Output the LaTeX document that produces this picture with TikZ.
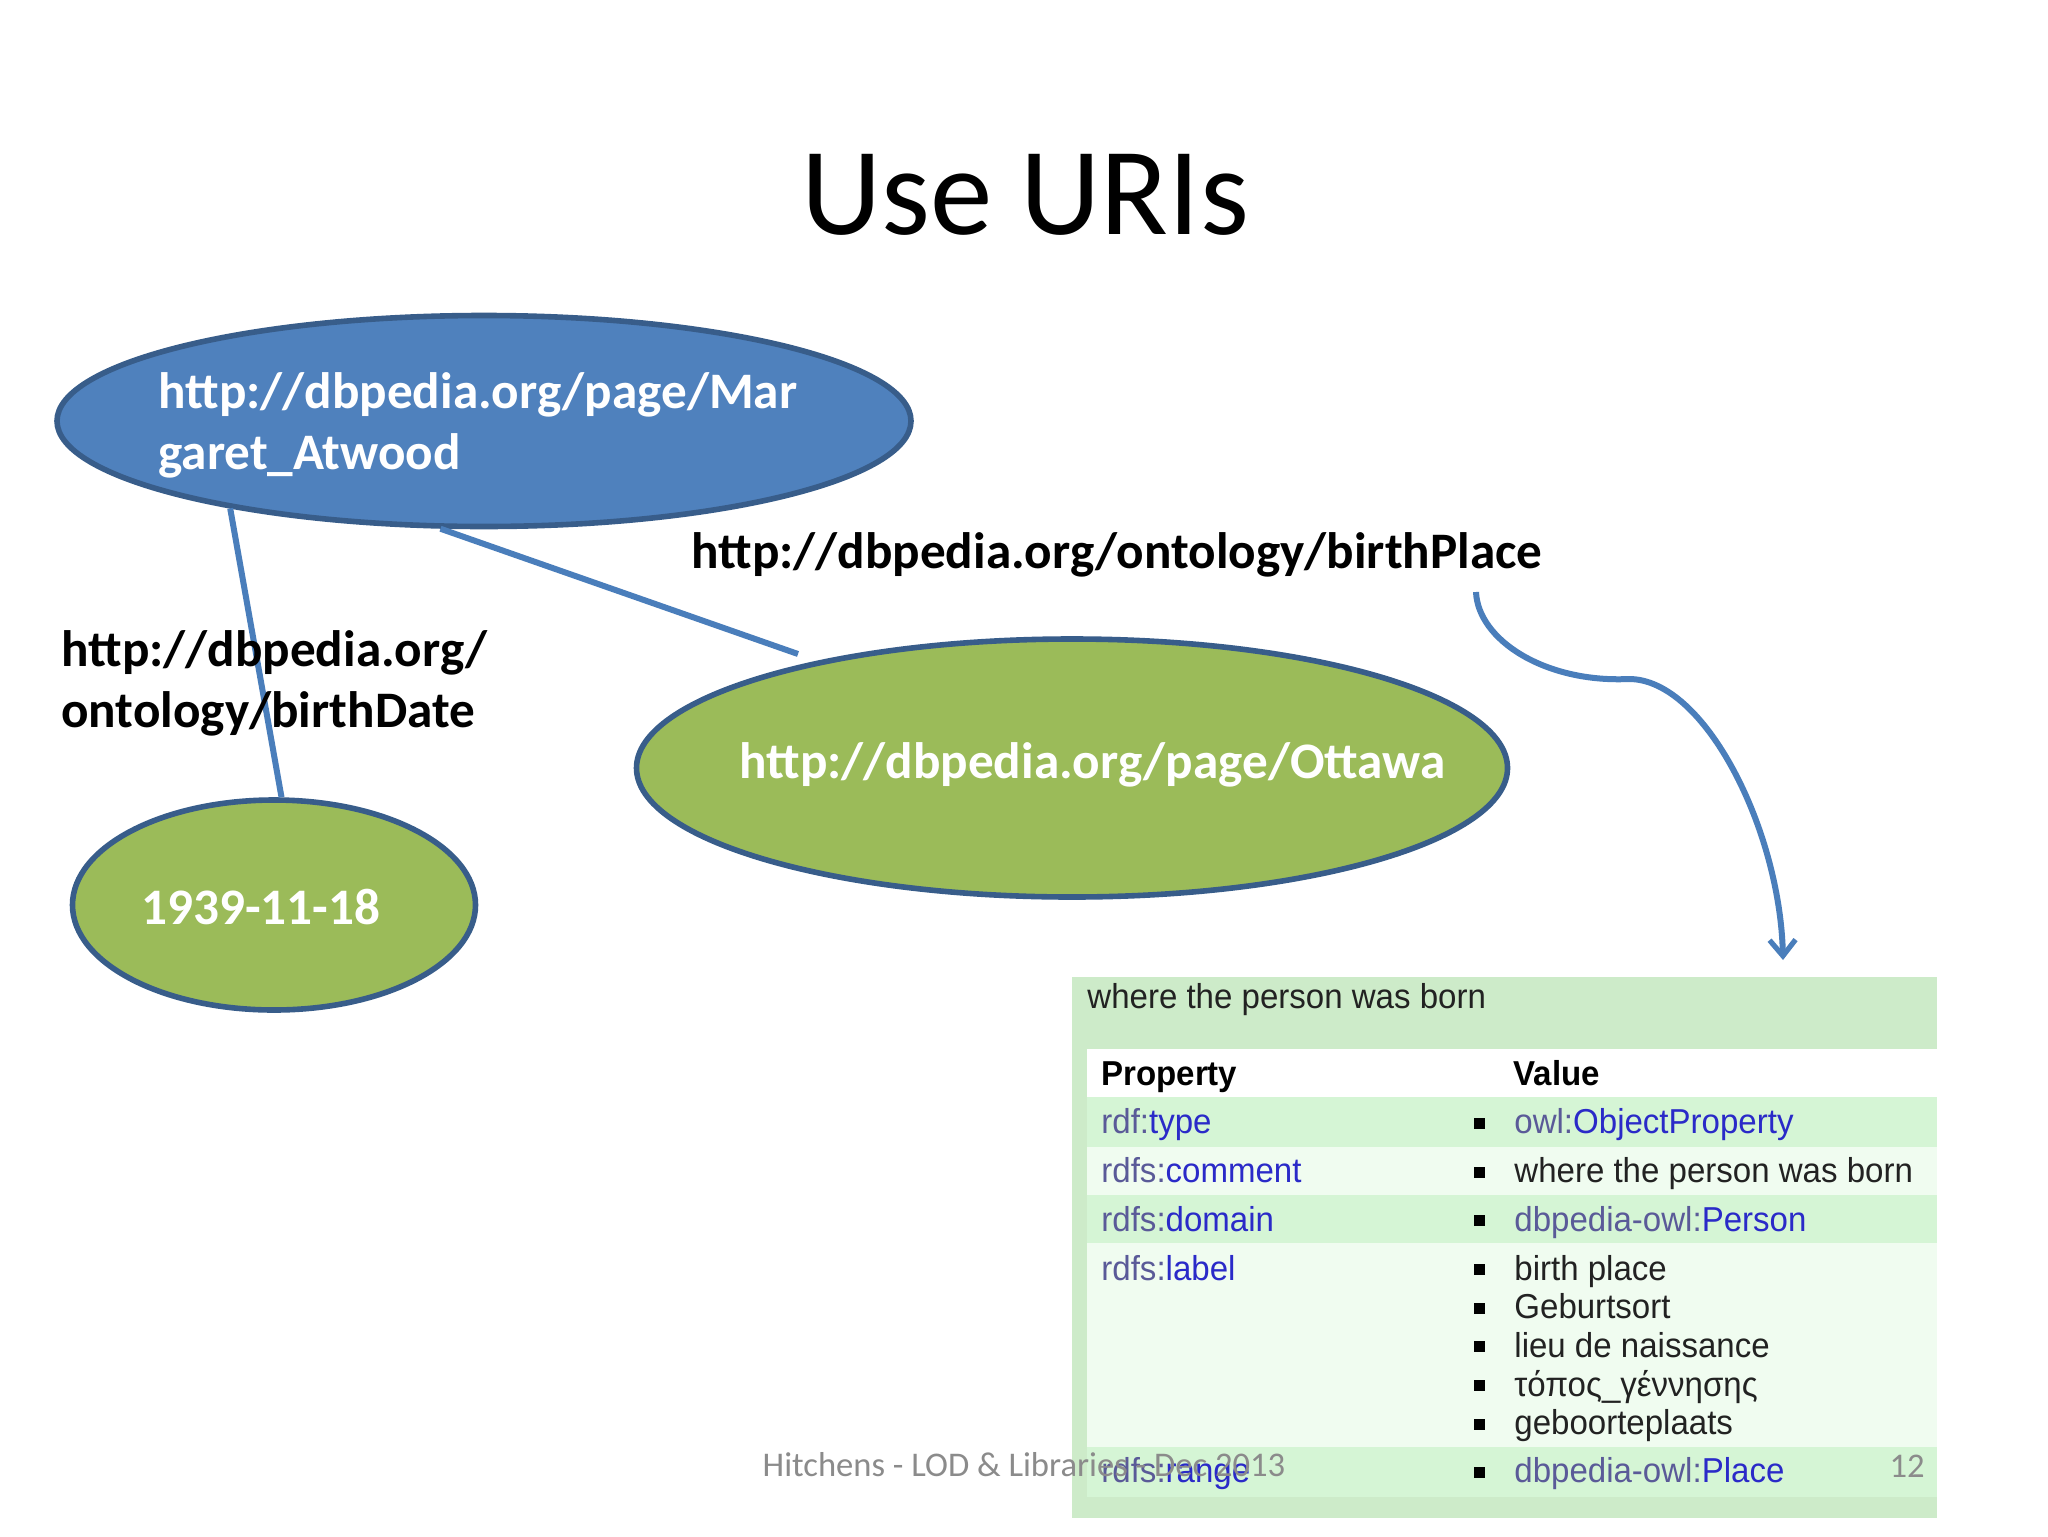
\documentclass[tikz,border=0pt]{standalone}
\usepackage{fontspec}
\setmainfont{Carlito}
\newfontfamily\tablefont[FakeStretch=0.955]{Liberation Sans}
\usetikzlibrary{shapes.geometric,arrows.meta}
\definecolor{nodeblue}{HTML}{4F81BD}
\definecolor{nodegreen}{HTML}{9BBB59}
\definecolor{rimblue}{HTML}{385D8A}
\definecolor{linkline}{HTML}{4A7EBB}
\definecolor{tablegreen}{HTML}{CDEBC9}
\definecolor{rowdark}{HTML}{D5F5D5}
\definecolor{rowlight}{HTML}{F0FCF0}
\definecolor{prefixc}{HTML}{5A5A98}
\definecolor{linkc}{HTML}{2A2AC8}
\definecolor{footc}{HTML}{8B8B8B}
\definecolor{tabletext}{HTML}{222222}
\newcommand{\pfx}[2]{\textcolor{prefixc}{#1}\textcolor{linkc}{#2}}
\tikzset{
  blob/.style={ellipse,draw=rimblue,line width=2.8pt,inner sep=0pt},
  edgeline/.style={draw=linkline,line width=3pt},
  nodetext/.style={anchor=west,inner sep=0pt,text=white,font=\fontsize{25.6}{30.5}\selectfont\bfseries,align=left},
  labeltext/.style={anchor=west,inner sep=0pt,text=black,font=\fontsize{25.6}{30.5}\selectfont\bfseries,align=left},
  cell/.style={anchor=base west,inner sep=0pt,text=tabletext,font=\tablefont\fontsize{17.3}{20}\selectfont},
  head/.style={cell,text=black,font=\tablefont\fontsize{17.3}{20}\selectfont\bfseries},
  bullet/.style={fill=black,inner sep=0pt,minimum size=5.5pt,rectangle},
  foot/.style={inner sep=0pt,text=footc,font=\fontsize{17.3}{20}\selectfont}
}
\begin{document}
\begin{tikzpicture}[x=0.5pt,y=-0.5pt]
\useasboundingbox (0,0) rectangle (2048,1536);
\fill[white] (0,0) rectangle (2048,1536);
\node[inner sep=0pt,font=\fontsize{62.5}{70}\selectfont] (title) at (1025,195) {Use URIs};
% table
\fill[tablegreen] (1072,977) rectangle (1937,1518);
\fill[white] (1087,1049) rectangle (1937,1097);
\fill[rowdark] (1087,1097) rectangle (1937,1147);
\fill[rowlight] (1087,1147) rectangle (1937,1195);
\fill[rowdark] (1087,1195) rectangle (1937,1243);
\fill[rowlight] (1087,1243) rectangle (1937,1447);
\fill[rowdark] (1087,1447) rectangle (1937,1497);
\node[cell] (caption) at (1087,1008) {where the person was born};
\node[head] (hprop) at (1101,1085) {Property};
\node[head] (hval) at (1513,1085) {Value};
\node[cell] (p1) at (1101,1133) {\pfx{rdf:}{type}};
\node[cell] (p2) at (1101,1182) {\pfx{rdfs:}{comment}};
\node[cell] (p3) at (1101,1231) {\pfx{rdfs:}{domain}};
\node[cell] (p4) at (1101,1280) {\pfx{rdfs:}{label}};
\node[cell] (p5) at (1101,1482) {\pfx{rdfs:}{range}};
\node[bullet] (b1) at (1479,1123) {};
\node[bullet] (b2) at (1479,1172) {};
\node[bullet] (b3) at (1479,1220) {};
\node[bullet] (b4) at (1479,1269) {};
\node[bullet] (b5) at (1479,1308) {};
\node[bullet] (b6) at (1479,1346) {};
\node[bullet] (b7) at (1479,1385) {};
\node[bullet] (b8) at (1479,1424) {};
\node[bullet] (b9) at (1479,1472) {};
\node[cell] (v1) at (1514,1133) {\pfx{owl:}{ObjectProperty}};
\node[cell] (v2) at (1514,1182) {where the person was born};
\node[cell] (v3) at (1514,1231) {\pfx{dbpedia-owl:}{Person}};
\node[cell] (v4) at (1514,1280) {birth place};
\node[cell] (v5) at (1514,1318) {Geburtsort};
\node[cell] (v6) at (1514,1357) {lieu de naissance};
\node[cell] (v7) at (1514,1396) {τόπος\_γέννησης};
\node[cell] (v8) at (1514,1434) {geboorteplaats};
\node[cell] (v9) at (1514,1482) {\pfx{dbpedia-owl:}{Place}};
\node[foot,anchor=base] (footer) at (1024,1476) {Hitchens - LOD \& Libraries - Dec 2013};
\node[foot,anchor=base east] (pageno) at (1925,1477) {12};
% ellipses
\node[blob,fill=nodeblue,minimum width=427pt,minimum height=105.5pt] (atwood) at (484,421) {};
\node[blob,fill=nodegreen,minimum width=435.5pt,minimum height=129pt] (ottawa) at (1072,768) {};
\node[blob,fill=nodegreen,minimum width=201.5pt,minimum height=105pt] (date) at (274,905) {};
% connectors
\coordinate (ottawaend) at (798,654);
\coordinate (arrowstart) at (1476,592);
\coordinate (arrowbend) at (1629,679);
\coordinate (arrowend) at (1783,960);
\draw[edgeline] (atwood.199.5) -- (date.86);
\draw[edgeline] (atwood.248) -- (ottawaend);
\draw[edgeline,-{Straight Barb[length=8pt,width=13pt,line width=2.6pt]}]
  (arrowstart) .. controls (1478,640) and (1545,683) .. (arrowbend)
  .. controls (1705,679) and (1780,830) .. (arrowend);
% labels
\node[nodetext] (atwoodtext) at (158,425) {http://dbpedia.org/page/Mar\\garet\_Atwood};
\node[nodetext] (ottawatext) at (739,765) {http://dbpedia.org/page/Ottawa};
\node[nodetext] (datetext) at (141,907) {1939-11-18};
\node[labeltext] (birthplace) at (691,555) {http://dbpedia.org/ontology/birthPlace};
\node[labeltext] (birthdate) at (61,683) {http://dbpedia.org/\\ontology/birthDate};
\end{tikzpicture}
\end{document}
